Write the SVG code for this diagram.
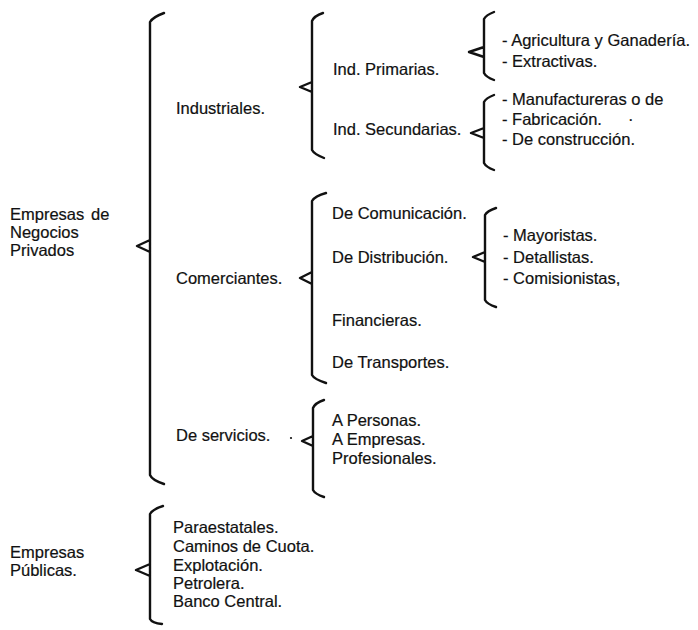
<svg xmlns="http://www.w3.org/2000/svg" width="698" height="630" viewBox="0 0 698 630">
<style>
text{font-family:"Liberation Sans",Arial,sans-serif;font-size:16.5px;fill:#111;stroke:#111;stroke-width:0.2}
.br{fill:none;stroke:#111;stroke-width:2.4;stroke-linejoin:round;stroke-linecap:round}
</style>
<rect width="698" height="630" fill="#fff"/>
<g id="connectors">
<path id="brace-privados" class="br" d="M164,13 Q153,17 150,22 L150,475 Q152,480 164,484 M150,240 L137,246 L150,252"/>
<path id="brace-industriales" class="br" d="M323,13 Q314,16 312,21 L312,150 Q314,154 324,158 M312,82 L300,87 L312,92"/>
<path id="brace-primarias" class="br" d="M494,12 Q486,15 484,19 L484,73 Q486,77 494,80 M484,47 L469,52 L484,57"/>
<path id="brace-secundarias" class="br" d="M494,95 Q486,98 484,102 L484,163 Q486,167 494,170 M484,128 L471,133 L484,138"/>
<path id="brace-comerciantes" class="br" d="M326,193 Q315,196 312,201 L312,375 Q314,379 326,383 M312,272 L300,278 L312,284"/>
<path id="brace-distribucion" class="br" d="M496,208 Q487,211 485,215 L485,300 Q487,304 496,307 M485,252 L473,257 L485,262"/>
<path id="brace-servicios" class="br" d="M324,400 Q315,403 313,408 L313,490 Q315,494 324,497 M313,436 L302,441 L313,446"/>
<path id="brace-publicas" class="br" d="M163,506 Q153,509 150,514 L150,619 Q152,623 162,624 M150,564 L136,570 L150,576"/>
</g>
<g id="n-privados"><text x="10" y="220">Empresas<tspan x="91">de</tspan></text><text x="10" y="238">Negocios</text><text x="10" y="256">Privados</text></g>
<g id="n-industriales"><text x="176" y="114">Industriales.</text></g>
<g id="n-primarias"><text x="333" y="75">Ind. Primarias.</text></g>
<g id="n-secundarias"><text x="333" y="135">Ind. Secundarias.</text></g>
<g id="n-primarias-list"><text x="502" y="46">- Agricultura y Ganadería.</text><text x="502" y="67">- Extractivas.</text></g>
<g id="n-secundarias-list"><text x="502" y="105">- Manufactureras o de</text><text x="502" y="125">- Fabricación.</text><text x="628" y="125">·</text><text x="502" y="145">- De construcción.</text></g>
<g id="n-comerciantes"><text x="176" y="284">Comerciantes.</text></g>
<g id="n-comunicacion"><text x="332" y="219">De Comunicación.</text></g>
<g id="n-distribucion"><text x="332" y="263">De Distribución.</text></g>
<g id="n-financieras"><text x="332" y="326">Financieras.</text></g>
<g id="n-transportes"><text x="332" y="368">De Transportes.</text></g>
<g id="n-distribucion-list"><text x="503" y="241">- Mayoristas.</text><text x="503" y="263">- Detallistas.</text><text x="503" y="284">- Comisionistas,</text></g>
<g id="n-servicios"><text x="176" y="441">De servicios.</text><circle cx="291" cy="438" r="1.1" fill="#111"/></g>
<g id="n-servicios-list"><text x="332" y="426">A Personas.</text><text x="332" y="445">A Empresas.</text><text x="332" y="464">Profesionales.</text></g>
<g id="n-publicas"><text x="10" y="558">Empresas</text><text x="10" y="576">Públicas.</text></g>
<g id="n-publicas-list"><text x="173" y="533">Paraestatales.</text><text x="173" y="552">Caminos de Cuota.</text><text x="173" y="571">Explotación.</text><text x="173" y="589">Petrolera.</text><text x="173" y="607">Banco Central.</text></g>
</svg>
